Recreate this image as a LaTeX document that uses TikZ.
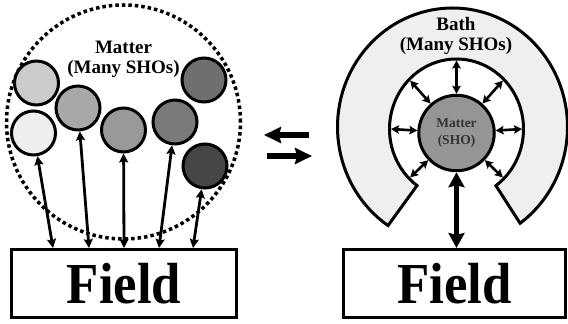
\documentclass[tikz,border=0pt]{standalone}
\usepackage{fontspec}
\setmainfont{Liberation Serif}
\usetikzlibrary{arrows.meta,calc}

\definecolor{shoA}{HTML}{CBCBCB}
\definecolor{shoB}{HTML}{EEEEEE}
\definecolor{shoC}{HTML}{A8A8A8}
\definecolor{shoD}{HTML}{999999}
\definecolor{shoE}{HTML}{7A7A7A}
\definecolor{shoF}{HTML}{6F6F6F}
\definecolor{shoG}{HTML}{464646}
\definecolor{bathgray}{HTML}{EFEFEF}
\definecolor{mattergray}{HTML}{959595}
\definecolor{mattertext}{HTML}{333333}

\begin{document}
\begin{tikzpicture}[x=1pt,y=1pt,
  sho/.style={circle,draw=black,line width=3pt,minimum size=44pt,inner sep=0pt},
  fieldbox/.style={draw=black,line width=3pt,inner sep=0pt,
    font=\bfseries\fontsize{58}{60}\selectfont},
  label/.style={align=center,inner sep=0pt,font=\bfseries\fontsize{19}{20}\selectfont},
  link/.style={line width=2.8pt,
    {Stealth[length=9pt,width=9pt,inset=1.5pt]}-{Stealth[length=9pt,width=9pt,inset=1.5pt]}},
  bathlink/.style={line width=2.6pt,
    {Stealth[length=8pt,width=8.5pt,inset=1.5pt]}-{Stealth[length=8pt,width=8.5pt,inset=1.5pt]}},
  fieldlink/.style={line width=4.5pt,
    {Stealth[length=15pt,width=16pt,inset=2pt]}-{Stealth[length=15pt,width=16pt,inset=2pt]}},
  swaparrow/.style={line width=6pt,-{Stealth[length=17pt,width=16pt,inset=2pt]}},
  bathring/.style={draw=black,fill=bathgray,line width=3pt,line join=miter}
]
\useasboundingbox (0,0) rectangle (568,324);

% ---------- many oscillators coupled directly to the field ----------
\draw[line width=3.5pt,dash pattern=on 3.5pt off 3pt] (123.5,202) circle[radius=117];

\node[label] (manylabel) at (123.5,265) {Matter\\(Many SHOs)};

\node[sho,fill=shoA] (s1) at (36.5,241) {};
\node[sho,fill=shoB] (s2) at (33.5,191) {};
\node[sho,fill=shoC] (s3) at (78,216) {};
\node[sho,fill=shoD] (s4) at (123.5,194) {};
\node[sho,fill=shoE] (s5) at (175,202) {};
\node[sho,fill=shoF] (s6) at (204,244) {};
\node[sho,fill=shoG] (s7) at (205,158) {};

\node[fieldbox,minimum width=225pt,minimum height=68pt] (lfield) at (124,40.5)
  {\scalebox{0.91}[1]{Field}};

\coordinate (f1) at (53,76);
\coordinate (f2) at (89,76);
\coordinate (f3) at (124,76);
\coordinate (f4) at (159,76);
\coordinate (f5) at (193,76);

\draw[link] (s2) -- (f1);
\draw[link] (s3) -- (f2);
\draw[link] (s4) -- (f3);
\draw[link] (s5) -- (f4);
\draw[link] (s7) -- (f5);

% ---------- equivalence arrows ----------
\coordinate (ltail) at (309,189);
\coordinate (lhead) at (264,189);
\coordinate (rtail) at (267,168);
\coordinate (rhead) at (312,168);
\draw[swaparrow] (ltail) -- (lhead);
\draw[swaparrow] (rtail) -- (rhead);

% ---------- one oscillator inside a bath ----------
\coordinate (outerc) at (452.5,197);
\coordinate (innerc) at (456.5,195);
\path[bathring]
  ([shift={(innerc)}]233.9:67 and 70)
  -- ([shift={(outerc)}]235.9:115 and 119)
  arc[start angle=235.9,end angle=-54,x radius=115,y radius=119]
  -- ([shift={(innerc)}]-54:67 and 70)
  arc[start angle=-54,end angle=233.9,x radius=67,y radius=70]
  -- cycle;

\node[label] (bathlabel) at (456,288.5) {Bath\\(Many SHOs)};

\node[circle,draw=black,fill=mattergray,line width=3pt,minimum size=75.5pt,inner sep=0pt,
  align=center,text=mattertext,font=\bfseries\fontsize{13.5}{16.5}\selectfont]
  (matter) at (456.5,191) {Matter\\(SHO)};

\foreach \a in {90,45,135,0,180,-45,-135}{
  \coordinate (b\a) at ([shift={(innerc)}]\a:65.5 and 68.5);
  \draw[bathlink] (matter) -- (b\a);
}

\node[fieldbox,minimum width=222pt,minimum height=68pt] (rfield) at (454.5,40.5)
  {\scalebox{0.91}[1]{Field}};

\draw[fieldlink] (matter.south) -- (matter.south |- rfield.north);
\end{tikzpicture}
\end{document}
